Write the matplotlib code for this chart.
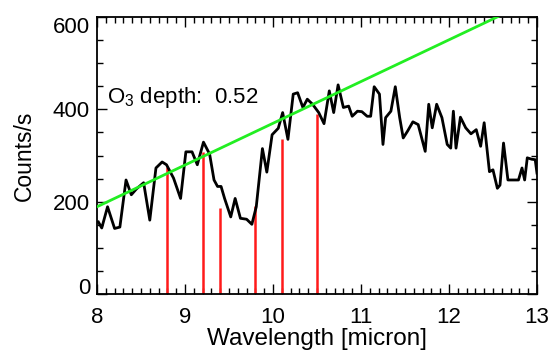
import matplotlib
matplotlib.use('Agg')
import matplotlib.pyplot as plt
from matplotlib.ticker import MultipleLocator

plt.rcParams['font.family'] = ['Liberation Sans', 'DejaVu Sans']
plt.rcParams['mathtext.default'] = 'regular'

# spectrum
wave = [8.016, 8.054, 8.12, 8.20, 8.26, 8.33, 8.39, 8.45, 8.53, 8.60, 8.67, 8.74,
        8.79, 8.87, 8.95, 9.01, 9.08, 9.14, 9.21, 9.28, 9.33, 9.37, 9.41, 9.45,
        9.52, 9.57, 9.63, 9.70, 9.76, 9.81, 9.88, 9.93, 9.99, 10.06, 10.11, 10.17,
        10.23, 10.28, 10.34, 10.39, 10.45, 10.52, 10.58, 10.64, 10.69, 10.74, 10.80,
        10.86, 10.90, 10.96, 11.01, 11.07, 11.11, 11.15, 11.21, 11.25, 11.28, 11.34,
        11.39, 11.44, 11.48, 11.53, 11.59, 11.65, 11.73, 11.77, 11.81, 11.86, 11.92,
        11.98, 12.02, 12.05, 12.08, 12.13, 12.19, 12.25, 12.31, 12.36, 12.40, 12.46,
        12.50, 12.55, 12.58, 12.62, 12.67, 12.73, 12.79, 12.83, 12.86, 12.89, 12.94,
        12.98, 13.0]
counts = [156, 143, 189, 142, 145, 247, 215, 228, 241, 160, 273, 286,
          280, 251, 207, 308, 308, 280, 329, 303, 247, 233, 233, 207,
          167, 207, 164, 162, 151, 189, 315, 264, 345, 359, 393, 335,
          433, 436, 404, 422, 411, 393, 369, 440, 393, 453, 404,
          407, 385, 396, 395, 385, 385, 449, 433, 324, 382, 396,
          449, 382, 338, 353, 373, 367, 309, 411, 360, 411, 382,
          324, 316, 396, 316, 383, 360, 347, 356, 320, 371, 265,
          269, 229, 236, 327, 247, 247, 247, 273, 247, 295, 292,
          291, 262]

# continuum fit
cont_x = [8.0, 13.0]
cont_y = [189, 641]

# O3 band sample positions
line_x = [8.8, 9.2, 9.4, 9.8, 10.1, 10.5]
line_y = [276, 308, 187, 191, 335, 389]

fig = plt.figure(figsize=(5.53, 3.62), dpi=100)
ax = fig.add_axes([0.1754, 0.1878, 0.7956, 0.7652])

ax.vlines(line_x, 0, line_y, color='#ff1a1a', lw=1.8, zorder=2)
ax.plot(wave, counts, color='black', lw=2, zorder=3)
ax.plot(cont_x, cont_y, color='#22ee22', lw=2, zorder=4)

ax.text(8.11, 425, 'O$_3$ depth:  0.52', fontsize=16, va='center', ha='left')

ax.set_xlim(8, 13)
ax.set_ylim(0, 600)
ax.xaxis.set_major_locator(MultipleLocator(1))
ax.xaxis.set_minor_locator(MultipleLocator(0.1))
ax.yaxis.set_major_locator(MultipleLocator(200))
ax.yaxis.set_minor_locator(MultipleLocator(50))
ax.tick_params(which='both', direction='in', top=True, right=True, labelsize=16, width=1)
ax.tick_params(which='major', length=7)
ax.tick_params(which='minor', length=4)
ax.tick_params(axis='x', pad=9)
ax.tick_params(axis='y', pad=5)
for s in ax.spines.values():
    s.set_linewidth(1.3)

ax.set_xlabel('Wavelength [micron]', fontsize=17.5, labelpad=0)
ax.set_ylabel('Counts/s', fontsize=16.5, labelpad=12)

# IDL-style: end labels pulled inside the axis range
fig.canvas.draw()
for t in ax.yaxis.get_major_ticks():
    if t.get_loc() == 600:
        t.label1.set_va('top')
    elif t.get_loc() == 0:
        t.label1.set_va('baseline')

fig.savefig('out.png', dpi=100)
